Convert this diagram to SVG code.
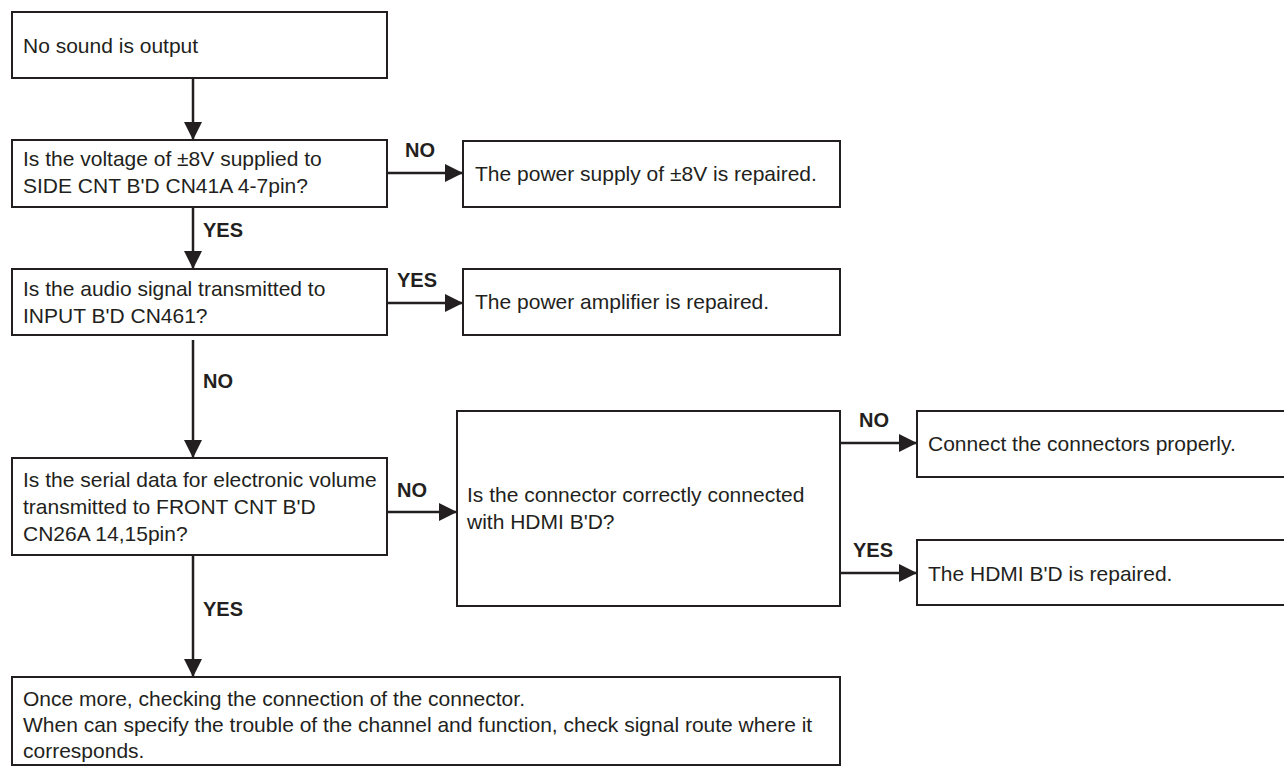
<svg xmlns="http://www.w3.org/2000/svg" width="1284" height="767" viewBox="0 0 1284 767">
<style>
.box{fill:#fff;stroke:#231f20;stroke-width:2}
.t{font-family:"Liberation Sans",Arial,sans-serif;font-size:21px;fill:#231f20}
.lb{font-family:"Liberation Sans",Arial,sans-serif;font-size:20px;font-weight:bold;fill:#231f20}
.c{stroke:#231f20;stroke-width:2.5;fill:none}
</style>
<defs>
<marker id="ah" viewBox="0 0 18 18" refX="18" refY="9" markerWidth="18" markerHeight="18" markerUnits="userSpaceOnUse" orient="auto">
<path d="M0,0 L18,9 L0,18 Z" fill="#231f20"/>
</marker>
</defs>
<rect width="1284" height="767" fill="#fff"/>
<g id="connectors">
<line class="c" x1="193" y1="78" x2="193" y2="140" marker-end="url(#ah)"/>
<line class="c" x1="387" y1="173" x2="463" y2="173" marker-end="url(#ah)"/>
<line class="c" x1="193" y1="207" x2="193" y2="269" marker-end="url(#ah)"/>
<line class="c" x1="387" y1="303" x2="463" y2="303" marker-end="url(#ah)"/>
<line class="c" x1="193" y1="340" x2="193" y2="458" marker-end="url(#ah)"/>
<line class="c" x1="387" y1="512" x2="457" y2="512" marker-end="url(#ah)"/>
<line class="c" x1="840" y1="443" x2="917" y2="443" marker-end="url(#ah)"/>
<line class="c" x1="840" y1="573" x2="917" y2="573" marker-end="url(#ah)"/>
<line class="c" x1="193" y1="555" x2="193" y2="677" marker-end="url(#ah)"/>
<text class="lb" x="405" y="157">NO</text>
<text class="lb" x="203" y="237">YES</text>
<text class="lb" x="397" y="287">YES</text>
<text class="lb" x="203" y="388">NO</text>
<text class="lb" x="397" y="497">NO</text>
<text class="lb" x="859" y="427">NO</text>
<text class="lb" x="853" y="557">YES</text>
<text class="lb" x="203" y="616">YES</text>
</g>
<g id="n1"><rect class="box" x="12" y="12" width="375" height="66"/><text class="t" x="23" y="53">No sound is output</text></g>
<g id="n2"><rect class="box" x="12" y="140" width="375" height="67"/><text class="t" x="23" y="166">Is the voltage of ±8V supplied to</text><text class="t" x="23" y="193">SIDE CNT B'D CN41A 4-7pin?</text></g>
<g id="n3"><rect class="box" x="463" y="141" width="377" height="66"/><text class="t" x="475" y="181">The power supply of ±8V is repaired.</text></g>
<g id="n4"><rect class="box" x="12" y="269" width="375" height="66"/><text class="t" x="23" y="296">Is the audio signal transmitted to</text><text class="t" x="23" y="323">INPUT B'D CN461?</text></g>
<g id="n5"><rect class="box" x="463" y="269" width="377" height="66"/><text class="t" x="475" y="309">The power amplifier is repaired.</text></g>
<g id="n6"><rect class="box" x="12" y="458" width="375" height="97"/><text class="t" x="23" y="487">Is the serial data for electronic volume</text><text class="t" x="23" y="514">transmitted to FRONT CNT B'D</text><text class="t" x="23" y="541">CN26A 14,15pin?</text></g>
<g id="n7"><rect class="box" x="457" y="411" width="383" height="195"/><text class="t" x="467" y="502">Is the connector correctly connected</text><text class="t" x="467" y="529">with HDMI B'D?</text></g>
<g id="n8"><rect class="box" x="917" y="411" width="380" height="66"/><text class="t" x="928" y="451">Connect the connectors properly.</text></g>
<g id="n9"><rect class="box" x="917" y="540" width="380" height="65"/><text class="t" x="928" y="581">The HDMI B'D is repaired.</text></g>
<g id="n10"><rect class="box" x="12" y="677" width="828" height="88"/><text class="t" x="23" y="706">Once more, checking the connection of the connector.</text><text class="t" x="23" y="732">When can specify the trouble of the channel and function, check signal route where it</text><text class="t" x="23" y="758">corresponds.</text></g>
</svg>
